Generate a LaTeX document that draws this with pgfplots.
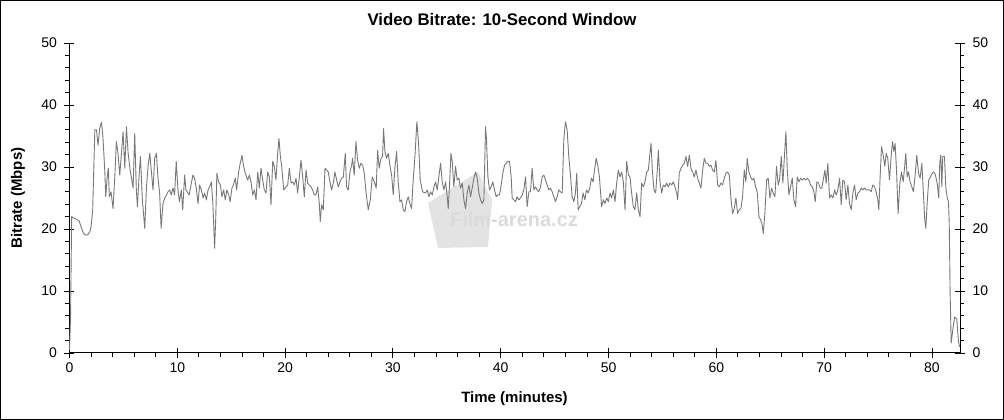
\documentclass[border=0pt]{standalone}
\usepackage{fontspec}
\setmainfont{Liberation Sans}
\usepackage{pgfplots}
\pgfplotsset{compat=1.18}

\pgfplotstableread{
t v
0 0.5
0.1 6
0.2 22
0.35 21.8
0.6 21.6
0.9 21.3
1.1 20.2
1.3 19.3
1.5 19.0
1.7 19.1
1.9 19.6
2.0 20.4
2.15 23
2.35 36
2.5 36
2.65 33.5
2.8 36.2
2.96 37.2
3.1 34.9
3.27 29.5
3.36 25.2
3.5 28.4
3.6 29.8
3.7 25.2
3.85 26
4.04 23.3
4.2 28.4
4.35 34.1
4.5 32.2
4.66 28.7
4.82 32.2
4.97 35.7
5.13 29.8
5.28 36.5
5.44 32.2
5.6 29.8
5.75 28.2
5.9 26.6
6.05 35.4
6.2 26.3
6.3 23.6
6.45 28.4
6.58 31.7
6.76 24.7
6.98 20.1
7.14 26.8
7.3 30.3
7.45 32.2
7.6 29.2
7.75 26.3
7.9 31.4
8.06 32.2
8.2 28.4
8.36 25.8
8.5 20.1
8.67 24.1
8.83 25
9.0 25.5
9.14 26
9.3 26.3
9.44 25.5
9.6 26.6
9.75 25.5
9.9 30.9
10.06 26.3
10.2 24.4
10.37 26.3
10.5 23.1
10.68 28.7
10.8 26.3
10.99 25.8
11.1 25.5
11.3 27.4
11.45 28.7
11.6 28.2
11.76 26.6
11.92 24.1
12.07 27.1
12.23 26.3
12.4 25
12.54 25.8
12.7 24.7
12.85 26.3
13.0 26.8
13.16 27.6
13.3 24.1
13.46 16.9
13.56 21.5
13.67 29
13.83 27.6
14.0 27.1
14.14 25.2
14.3 26.3
14.45 24.7
14.6 26.3
14.77 25.5
14.9 24.4
15.07 26.6
15.2 27.1
15.38 28.2
15.5 26.3
15.69 29.2
15.8 30.3
16.0 31.9
16.1 30.6
16.3 29.0
16.53 27.9
16.68 28.7
16.84 27.6
16.99 25.5
17.15 26.3
17.3 24.7
17.46 29.2
17.61 26.6
17.76 29.8
17.92 27.9
18.07 26.3
18.23 25.8
18.38 29.2
18.54 28.4
18.69 23.9
18.85 30.9
19.0 30.1
19.15 27.9
19.31 32.2
19.43 34.6
19.56 31.7
19.68 30.1
19.87 26.3
20.08 26.8
20.24 27.1
20.39 29.8
20.55 27.4
20.7 27.6
20.85 27.1
21.01 28.2
21.16 25.8
21.32 28.4
21.47 31.1
21.63 28.4
21.78 25.2
21.94 29.5
22.09 27.4
22.24 27.1
22.4 26.8
22.55 26.3
22.71 25.5
22.86 25.5
23.02 26.8
23.17 24.1
23.26 21.2
23.39 23.9
23.54 23.1
23.7 29.8
23.85 29.5
24.0 29.2
24.16 27.6
24.31 26.3
24.47 27.4
24.62 29.2
24.78 27.9
24.93 26.8
25.09 27.6
25.24 28.2
25.4 28.4
25.58 32.2
25.7 26.8
25.86 26.3
26.01 29.2
26.17 30.3
26.26 31.4
26.41 28.7
26.57 34.1
26.72 31.1
26.88 29.8
27.03 30.6
27.19 30.3
27.34 29
27.5 26
27.71 23.1
27.9 24.7
28.08 28.4
28.27 27.6
28.45 26.6
28.58 32.7
28.73 29.8
28.89 31.4
29.04 31.7
29.13 36.2
29.26 32.5
29.41 31.4
29.57 32.2
29.72 30.3
29.88 28.7
30.03 25.5
30.18 29.8
30.34 32.5
30.49 27.6
30.65 24.4
30.8 24.7
30.96 23.1
31.11 22.8
31.26 24.4
31.42 25.2
31.57 24.1
31.73 23.3
31.88 27.9
32.04 31.7
32.22 37.3
32.38 33.8
32.53 27.9
32.75 26
33.03 25.8
33.18 26.3
33.34 25.2
33.49 26
33.65 25.5
33.8 26.8
33.96 27.6
34.11 26.3
34.26 28.4
34.42 30.6
34.57 27.6
34.73 26.3
34.88 27.6
35.04 25.2
35.13 23.3
35.25 27.1
35.38 32.2
35.5 30.9
35.65 26.8
35.81 30.1
35.96 27.9
36.12 28.2
36.27 26.6
36.43 27.4
36.58 24.7
36.74 23.3
36.89 25.8
37.05 27.1
37.2 25.2
37.35 26.6
37.51 28.2
37.66 29.2
37.82 28.2
37.97 25.8
38.13 24.7
38.28 24.1
38.44 24.7
38.59 36.5
38.68 34.4
38.81 28.4
38.96 26.3
39.11 26.8
39.27 27.6
39.42 26.3
39.58 25.2
39.73 25.5
39.89 25.5
40.04 27.1
40.2 29
40.35 30.3
40.5 30.6
40.66 30.9
40.81 30.9
40.97 28.4
41.06 25
41.22 24.7
41.37 24.4
41.52 25.2
41.68 24.7
41.83 25
41.99 25.5
42.14 26.3
42.3 28.4
42.45 23.6
42.61 26
42.76 26
42.91 29.8
43.07 26.3
43.22 26.8
43.38 26.3
43.53 26
43.69 26.8
43.84 28.4
44.0 28.7
44.15 27.9
44.3 27.1
44.46 26.3
44.61 26.6
44.77 26
44.92 25.2
45.08 24.4
45.23 25.2
45.39 26.3
45.54 26
45.7 25.8
45.85 34.4
46.0 37.3
46.16 36
46.31 31.7
46.47 28.7
46.62 25.2
46.78 24.4
46.93 25.8
47.05 29
47.18 23.1
47.33 23.6
47.49 24.1
47.64 25.8
47.8 24.7
47.95 26.3
48.1 25.8
48.26 26.6
48.41 28.2
48.57 27.6
48.72 29.8
48.85 31.4
49.0 30.3
49.15 28.4
49.36 23.6
49.52 24.7
49.67 24.1
49.83 25
49.98 24.4
50.14 25.8
50.29 25
50.45 26.3
50.6 24.4
50.75 27.4
50.91 29.5
51.06 28.4
51.22 29.2
51.37 27.6
51.53 23.1
51.68 30.9
51.84 28.7
51.99 28.4
52.14 25.8
52.3 23.6
52.45 23.1
52.61 25.8
52.76 23.1
52.92 22
53.07 27.4
53.23 26.8
53.38 27.6
53.54 29.2
53.69 29.5
53.84 32.2
53.94 33.8
54.06 29.5
54.21 26.3
54.37 25.8
54.52 29.5
54.62 32.7
54.77 27.6
54.93 25.8
55.08 27.1
55.23 26.8
55.39 27.4
55.54 26.8
55.7 27.4
55.85 27.1
56.01 27.6
56.16 26.8
56.32 25.8
56.41 24.7
56.56 29
56.72 29.8
56.87 30.3
57.03 30.6
57.18 31.7
57.34 30.1
57.49 31.9
57.64 29.8
57.8 29.2
57.95 28.4
58.11 29.5
58.26 28.2
58.42 27.4
58.57 26.6
58.73 29.5
58.88 31.4
59.03 30.6
59.19 30.6
59.34 30.1
59.5 30.3
59.65 29.5
59.81 29.2
59.96 31.1
60.12 27.1
60.27 26.8
60.42 27.4
60.58 27.1
60.73 28.2
60.89 29
61.04 29.2
61.2 28.7
61.35 25
61.5 22.5
61.66 23.3
61.81 25
61.97 22.5
62.12 23.1
62.28 23.3
62.43 25.2
62.59 29.5
62.74 27.6
62.86 31.4
63.02 29.2
63.17 28.4
63.33 27.9
63.48 28.2
63.64 26.8
63.79 26
63.95 22
64.1 21.5
64.25 20.7
64.35 19.3
64.5 22.5
64.66 27.9
64.81 28.2
64.97 25
65.12 26.6
65.27 25.8
65.43 25.2
65.58 30.1
65.74 27.1
65.86 27.9
66.02 31.7
66.17 27.4
66.33 32.2
66.45 35.7
66.58 29.5
66.73 25.5
66.88 26.8
67.04 28.2
67.19 24.7
67.35 23.6
67.5 28.4
67.66 27.6
67.81 28.2
67.97 27.9
68.12 28.2
68.27 27.9
68.43 28.2
68.58 27.9
68.74 27.1
68.89 26.8
69.05 26
69.17 24.4
69.32 27.6
69.48 27.4
69.63 26.6
69.79 26.6
69.94 28.2
70.07 29.5
70.19 27.4
70.34 30.6
70.5 25
70.65 25.5
70.81 25
70.96 26.3
71.12 25.5
71.27 26.3
71.43 28.2
71.58 23.9
71.73 27.9
71.89 27.6
72.04 24.7
72.2 27.1
72.35 24.1
72.51 23.1
72.66 25.8
72.82 27.1
72.97 24.7
73.12 25.8
73.28 26
73.43 26.6
73.59 26.3
73.74 26.6
73.9 26.3
74.05 26.3
74.21 26.3
74.36 26
74.51 27.1
74.67 26.8
74.82 26
74.98 24.7
75.07 23.1
75.19 28.4
75.32 33.3
75.47 31.9
75.63 30.1
75.75 32.2
75.9 31.4
76.06 27.9
76.21 31.7
76.34 34.1
76.46 32.5
76.58 33.8
76.71 29.5
76.86 22.5
77.02 27.4
77.17 29.2
77.33 27.6
77.45 29.8
77.57 32.2
77.7 28.4
77.82 29.2
77.97 27.6
78.13 26.8
78.28 26
78.44 28.7
78.59 31.9
78.75 29
78.9 28.2
79.06 30.6
79.21 25.5
79.33 21.5
79.43 20.1
79.55 24.1
79.7 27.9
79.86 28.4
80.01 29
80.17 29.2
80.32 28.7
80.48 27.4
80.63 25
80.72 30.6
80.82 31.9
80.91 26.8
81.0 31.7
81.16 31.7
81.28 26.8
81.4 25.2
81.53 24.4
81.6 21
81.68 10
81.78 1.6
81.95 4
82.1 5.8
82.3 5.5
82.45 2
82.55 1
}\bitrate

\begin{document}
\begin{tikzpicture}[x=1pt,y=1pt]
\useasboundingbox (0,0) rectangle (1004,420);
\draw[black, line width=1pt] (0.5,0.5) rectangle (1003.5,419.5);
% watermark
\fill[gray!22] (428,217) -- (478,248) -- (492,220) -- (488,173) -- (438,172) -- cycle;
\node[font=\bfseries\fontsize{20}{20}\selectfont, text=gray!28] at (514,201) {Film-arena.cz};

\pgfplotsset{
  common/.style={
    at={(69.5pt,67pt)}, anchor=south west, scale only axis,
    width=890.5pt, height=310pt,
    xmin=0, xmax=82.6, ymin=0, ymax=50,
    xtick={0,10,...,80}, ytick={0,10,...,50},
    minor x tick num=4, minor y tick num=4,
    tick align=outside, major tick length=10pt, minor tick length=4pt,
    axis line style={black, line width=1pt},
    every tick/.style={black, line width=0.9pt},
    tick label style={font=\fontsize{14}{14}\selectfont},
    /pgf/number format/assume math mode=true,
    clip=false,
  }
}
\begin{axis}[common,
  axis x line*=bottom, axis y line*=left,
  every major x tick/.append style={yshift=5pt},
  every major y tick/.append style={xshift=5pt},
  xticklabel style={yshift=4pt},
  yticklabel style={xshift=1pt},
]
\addplot[color={rgb,255:red,120;green,120;blue,120}, line width=0.9pt, line join=round] table[x=t,y=v] {\bitrate};
\end{axis}
\begin{axis}[common,
  axis x line=none, axis y line*=right,
  every major y tick/.append style={xshift=-5pt},
  yticklabel style={xshift=-1pt},
]
\end{axis}

\node[font=\bfseries\fontsize{16.8}{16.8}\selectfont] at (502,400) {Video Bitrate: 10-Second Window};
\node[font=\bfseries\fontsize{15}{15}\selectfont] at (514.5,21) {Time (minutes)};
\node[font=\bfseries\fontsize{15}{15}\selectfont, rotate=90] at (18,222) {Bitrate (Mbps)};
\end{tikzpicture}
\end{document}
